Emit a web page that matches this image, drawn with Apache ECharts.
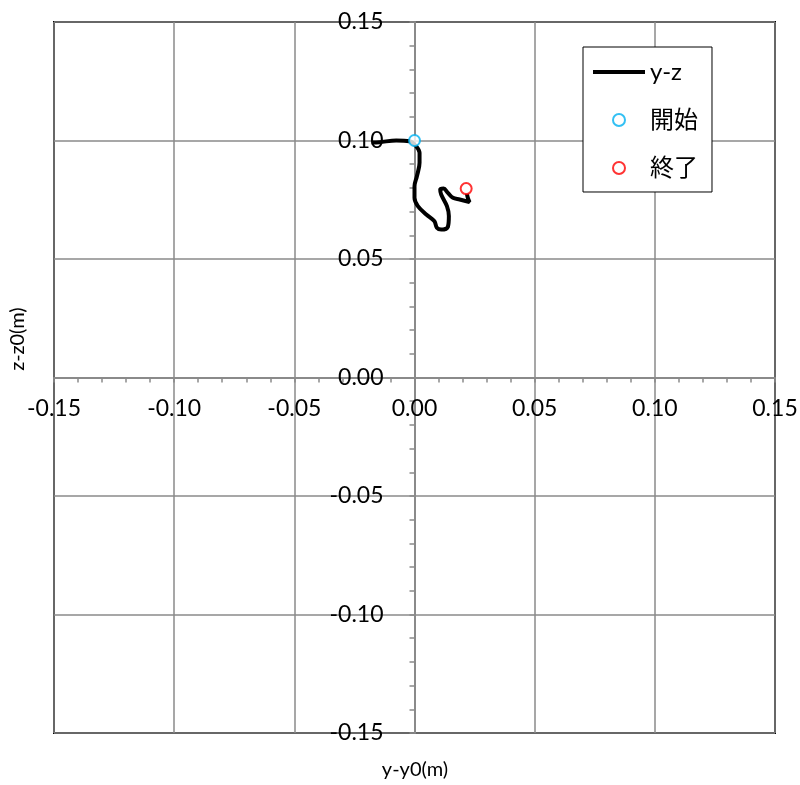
<!DOCTYPE html>
<html><head><meta charset="utf-8">
<script src="https://cdn.jsdelivr.net/npm/echarts@6/dist/echarts.min.js"></script>
<style>html,body{margin:0;padding:0;background:#fff}#c{width:800px;height:785px}</style>
</head><body><div id="c"></div>
<script>
// trajectory y-y0 (m), z-z0 (m)
const pathY = [-0.0179,-0.0146,-0.0076,-0.0021,0.0007,0.0021,0.0021,0.0010,0.0000,0.0000,0.0014,0.0049,0.0083,0.0093,0.0111,0.0139,0.0143,0.0135,0.0111,0.0107,0.0121,0.0139,0.0160,0.0188,0.0229,0.0222,0.0218];
const pathZ = [0.0992,0.0993,0.1000,0.0997,0.0976,0.0948,0.0906,0.0849,0.0807,0.0758,0.0723,0.0688,0.0659,0.0632,0.0624,0.0636,0.0681,0.0723,0.0772,0.0793,0.0797,0.0779,0.0758,0.0751,0.0740,0.0758,0.0776];
const startPt = [0.0000, 0.1000];
const endPt = [0.0215, 0.0797];
const seriesNames = ['y-z','開始','終了'];
const axisTitleX = 'y-y0(m)';
const axisTitleY = 'z-z0(m)';

const FONT = 'Lato, "Noto Sans CJK JP", sans-serif';
const GRAY = '#8a8a8a';
const GL = 54, GT = 22, GW = 721, GH = 711;
const chart = echarts.init(document.getElementById('c'));
const commonAxis = {
  type:'value', min:-0.15, max:0.15, interval:0.05,
  axisLine:{show:true, onZero:false, lineStyle:{color:GRAY, width:2}},
  axisTick:{show:true, length:5, lineStyle:{color:GRAY, width:1.5}},
  minorTick:{show:true, splitNumber:5, length:5, lineStyle:{color:GRAY, width:1.5}},
  splitLine:{show:true, lineStyle:{color:GRAY, width:1.5}},
  axisLabel:{color:'#000', fontSize:23, fontFamily:FONT, showMinLabel:true, showMaxLabel:true, hideOverlap:false,
    formatter:v=>v.toFixed(2)}
};
chart.setOption({
  animation:false,
  backgroundColor:'#fff',
  grid:{left:GL, top:GT, width:GW, height:GH, show:true, borderColor:'#000', borderWidth:2, containLabel:false, outerBoundsMode:'none'},
  xAxis:Object.assign({}, commonAxis, {position:'bottom', offset:-GH/2, axisLabel:Object.assign({}, commonAxis.axisLabel, {margin:20})}),
  yAxis:Object.assign({}, commonAxis, {position:'left', offset:-GW/2, axisLabel:Object.assign({}, commonAxis.axisLabel, {margin:31})}),
  legend:{
    orient:'vertical', left:583, top:47,
    backgroundColor:'#fff', borderColor:'#000', borderWidth:1,
    padding:[13,14,12,10], itemWidth:52, itemHeight:12, itemGap:24,
    textStyle:{fontSize:24, fontFamily:FONT, color:'#000'},
    data:[
      {name:seriesNames[0], icon:'path://M0,0 L52,0 L52,4 L0,4 Z'},
      {name:seriesNames[1], icon:'emptyCircle', itemStyle:{borderWidth:2}},
      {name:seriesNames[2], icon:'emptyCircle', itemStyle:{borderWidth:2}}
    ]
  },
  graphic:[
    {type:'text', x:415, y:770, style:{text:axisTitleX, fontSize:20, fontFamily:FONT, fill:'#000', align:'center', verticalAlign:'middle'}},
    {type:'text', x:18, y:339, rotation:Math.PI/2, style:{text:axisTitleY, fontSize:20, fontFamily:FONT, fill:'#000', align:'center', verticalAlign:'middle'}}
  ],
  series:[
    {name:seriesNames[0], type:'line', data:pathY.map((v,i)=>[v,pathZ[i]]), showSymbol:false, smooth:0.35,
      lineStyle:{color:'#000', width:4}, itemStyle:{color:'#000'}, z:2},
    {name:seriesNames[1], type:'scatter', data:[startPt], symbol:'emptyCircle', symbolSize:11,
      itemStyle:{color:'#00B0F0', borderColor:'#00B0F0', borderWidth:2}, z:3},
    {name:seriesNames[2], type:'scatter', data:[endPt], symbol:'emptyCircle', symbolSize:11,
      itemStyle:{color:'#FF0000', borderColor:'#FF0000', borderWidth:2}, z:3}
  ]
});
</script></body></html>
